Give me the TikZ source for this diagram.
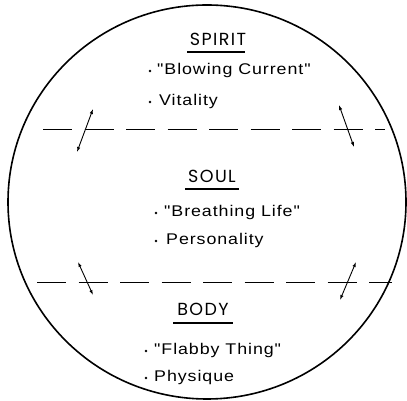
\documentclass[tikz,border=0pt]{standalone}
\usepackage{fontspec}
\usetikzlibrary{arrows.meta}
\newfontfamily\bodyfont[FakeStretch=1.15,LetterSpace=6]{Liberation Sans}
\newfontfamily\headfont[LetterSpace=8]{Poppins}
\tikzset{
  ring/.style={line width=1.6pt},
  divider/.style={line width=0.9pt, dash pattern=on 29pt off 12.5pt},
  flow/.style={line width=0.9pt, {Latex[open,length=5pt,width=3.5pt]}-{Latex[open,length=5pt,width=3.5pt]}},
  head/.style={anchor=base, inner sep=0pt, font=\headfont\fontsize{17.5}{20}\selectfont},
  headline/.style={line width=1.2pt},
  item/.style={anchor=base west, inner sep=0pt, font=\bodyfont\fontsize{15.5}{18}\selectfont},
  dot/.style={circle, fill, inner sep=0pt, minimum size=2.6pt}
}
\begin{document}
\begin{tikzpicture}[x=1pt,y=1pt]
\useasboundingbox (0,0) rectangle (407,401);
\draw[ring] (207,199) ellipse [x radius=199, y radius=197];
% dividers
\coordinate (d1l) at (43,272); \coordinate (d1r) at (385,272);
\coordinate (d2l) at (37,119); \coordinate (d2r) at (392,119);
\draw[divider] (d1l) -- (d1r);
\draw[divider] (d2l) -- (d2r);
% arrows
\coordinate (a1s) at (77,249); \coordinate (a1e) at (93,292);
\coordinate (a2s) at (339,296); \coordinate (a2e) at (354,254);
\coordinate (a3s) at (78,139); \coordinate (a3e) at (93,106);
\coordinate (a4s) at (356,139); \coordinate (a4e) at (340,101);
\draw[flow] (a1s) -- (a1e);
\draw[flow] (a2s) -- (a2e);
\draw[flow] (a3s) -- (a3e);
\draw[flow] (a4s) -- (a4e);
% headings
\node[head] (spirit) at (218,355) {SPIRIT};
\coordinate (u1l) at (187,349); \coordinate (u1r) at (245,349);
\draw[headline] (u1l) -- (u1r);
\node[head] (soul) at (212,218) {SOUL};
\coordinate (u2l) at (185,212); \coordinate (u2r) at (239,212);
\draw[headline] (u2l) -- (u2r);
\node[head] (body) at (203,85) {BODY};
\coordinate (u3l) at (173,78); \coordinate (u3r) at (233,78);
\draw[headline] (u3l) -- (u3r);
% items
\node[item] (i1) at (157,326) {"Blowing Current"};
\node[item] (i2) at (159,295) {Vitality};
\node[item] (i3) at (164,184) {"Breathing Life"};
\node[item] (i4) at (166,156) {Personality};
\node[item] (i5) at (154,46) {"Flabby Thing"};
\node[item] (i6) at (154,19) {Physique};
\node[dot] (b1) at (150,330) {};
\node[dot] (b2) at (150,299) {};
\node[dot] (b3) at (156,188) {};
\node[dot] (b4) at (156,160) {};
\node[dot] (b5) at (146,50) {};
\node[dot] (b6) at (146,23) {};
\end{tikzpicture}
\end{document}
